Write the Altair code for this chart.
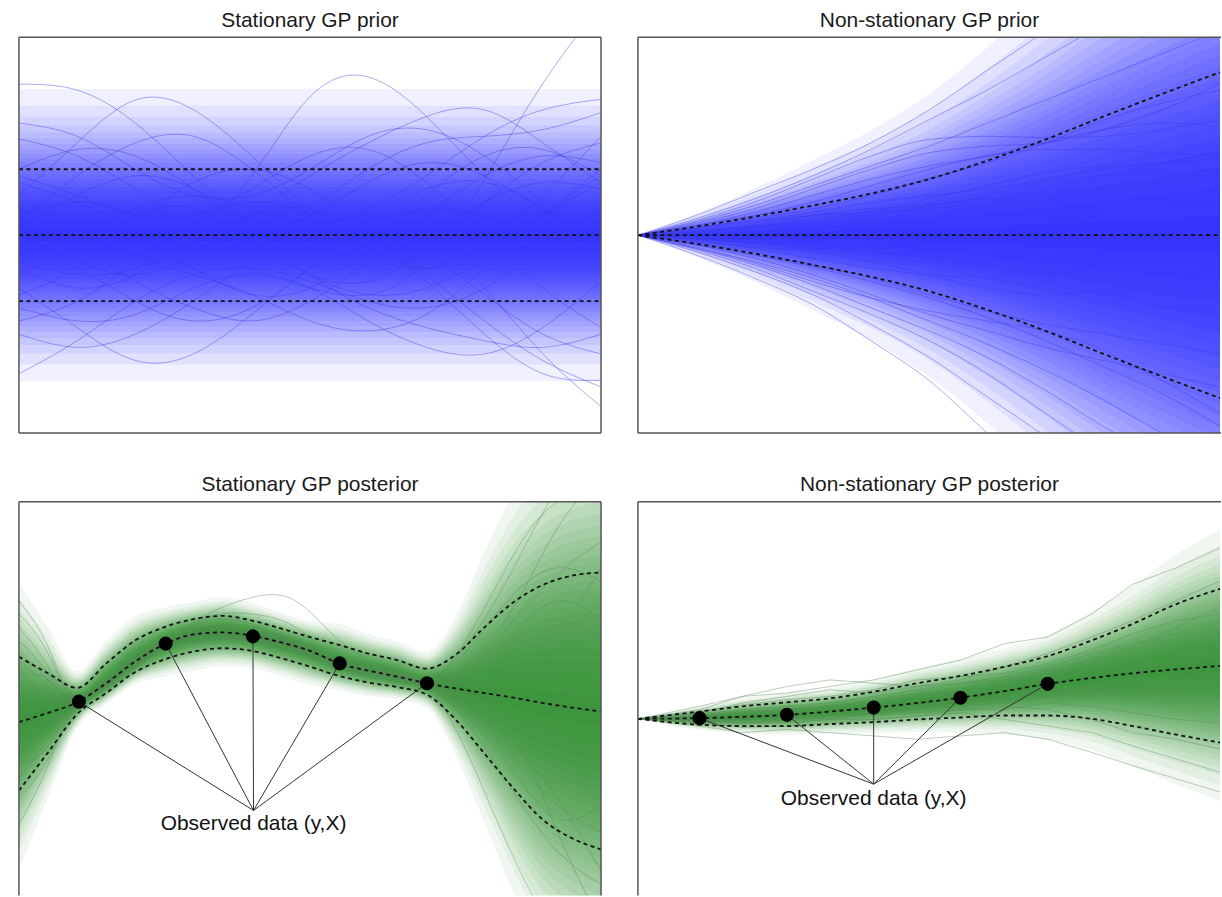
import altair as alt
import pandas as pd

# ---------------- data ----------------
X11 = [0.0, 0.1, 0.2, 0.3, 0.4, 0.5, 0.6, 0.7, 0.8, 0.9, 1.0]

# Stationary GP prior
TL_MEAN = [0, 0, 0, 0, 0, 0, 0, 0, 0, 0, 0]
TL_UPPER = [1, 1, 1, 1, 1, 1, 1, 1, 1, 1, 1]
TL_LOWER = [-1, -1, -1, -1, -1, -1, -1, -1, -1, -1, -1]
TL_SAMPLES = [
    [0.3, 0.5, 0.3, -0.1, -0.5, -0.8, -0.9, -0.4, 0.85, 2.3, 3.5],
    [-0.5, -0.8, -0.6, 0.0, 0.9, 2.1, 2.4, 1.8, 0.9, 0.2, 0.0],
    [2.29, 2.2, 1.7, 0.9, 0.2, -0.2, -0.3, 0.0, 0.5, 0.8, 0.7],
    [0.6, 1.4, 2.05, 1.9, 1.2, 0.4, -0.2, -0.4, -0.2, 0.3, 0.8],
    [-2.1, -1.6, -1.0, -0.6, -0.5, -0.7, -1.0, -1.1, -0.8, -0.2, 0.4],
    [0.2, 0.0, -0.3, -0.4, -0.2, 0.1, 0.3, 0.0, -0.8, -1.8, -2.6],
    [-0.4, -0.6, -0.5, -0.1, 0.3, 0.4, 0.0, -0.7, -1.5, -2.1, -2.2],
    [-0.8, -1.4, -1.9, -1.8, -1.2, -0.5, 0.1, 0.4, 0.3, 0.0, -0.3],
    [0.5, 0.2, -0.3, -0.6, -0.9, -1.3, -1.45, -1.2, -0.5, 0.3, 0.9],
    [-0.3, 0.0, 0.4, 0.6, 0.4, 0.2, 0.4, 0.9, 1.5, 1.9, 2.06],
    [0.8, 0.5, 0.1, -0.2, -0.1, 0.4, 1.0, 1.4, 1.5, 1.6, 1.86],
    [0.0, -0.4, -0.6, -0.3, 0.3, 0.9, 1.4, 1.8, 1.9, 1.4, 0.8],
    [1.46, 1.2, 0.7, 0.2, 0.0, 0.3, 0.8, 1.1, 0.9, 0.4, -0.1],
    [-0.9, -0.5, 0.2, 0.8, 1.0, 0.7, 0.1, -0.6, -1.3, -1.9, -2.3],
    [1.0, 1.3, 1.2, 0.7, 0.0, -0.6, -0.9, -0.8, -0.4, -0.1, 0.1],
    [-1.3, -1.0, -0.4, 0.2, 0.5, 0.3, -0.2, -0.5, -0.3, 0.3, 1.0],
    [0.1, 0.6, 0.9, 0.7, 0.1, -0.6, -1.1, -1.4, -1.6, -1.7, -1.5],
    [-0.2, -0.5, -1.0, -1.3, -1.1, -0.5, 0.2, 0.7, 0.8, 0.4, -0.3],
    [0.9, 0.6, 0.3, 0.3, 0.7, 1.2, 1.3, 0.8, 0.0, -0.8, -1.4],
    [-0.6, -0.2, 0.3, 0.4, -0.1, -0.6, -0.7, -0.2, 0.5, 1.1, 1.4],
    [1.7, 1.5, 1.0, 0.6, 0.6, 1.0, 1.5, 1.6, 1.2, 0.5, -0.2],
    [-1.5, -1.7, -1.5, -1.0, -0.4, 0.0, 0.0, -0.3, -0.9, -1.5, -1.8],
    [0.4, -0.1, -0.7, -1.1, -1.3, -1.0, -0.4, 0.3, 0.9, 1.2, 1.1],
    [-1.1, -1.3, -1.2, -0.8, -0.6, -0.8, -1.3, -1.7, -1.8, -1.4, -0.7],
    [0.2, 0.9, 1.4, 1.5, 1.0, 0.3, -0.3, -0.5, -0.1, 0.6, 1.5],
    [-0.1, 0.2, 0.0, -0.5, -0.9, -0.8, -0.2, 0.6, 1.2, 1.3, 0.9],
]

# Non-stationary GP prior
TR_MEAN = [0, 0, 0, 0, 0, 0, 0, 0, 0, 0, 0]
TR_UPPER = [0, 0.13, 0.28, 0.45, 0.63, 0.85, 1.13, 1.45, 1.8, 2.14, 2.47]
TR_LOWER = [0, -0.13, -0.28, -0.45, -0.63, -0.85, -1.13, -1.45, -1.8, -2.14, -2.47]
TR_SAMPLES = [
    [0, 0.3, 0.65, 1.0, 1.4, 1.9, 2.5, 3.1, 3.8, 4.4, 5.0],
    [0, 0.25, 0.55, 0.9, 1.3, 1.75, 2.2, 2.7, 3.2, 3.7, 4.2],
    [0, 0.2, 0.45, 0.75, 1.05, 1.35, 1.7, 2.05, 2.4, 2.75, 3.1],
    [0, 0.22, 0.5, 0.85, 1.2, 1.45, 1.5, 1.48, 1.5, 1.6, 1.75],
    [0, 0.18, 0.4, 0.7, 1.0, 1.25, 1.35, 1.4, 1.6, 1.9, 2.3],
    [0, 0.15, 0.3, 0.5, 0.75, 1.0, 1.2, 1.3, 1.3, 1.25, 1.2],
    [0, 0.1, 0.25, 0.4, 0.6, 0.85, 1.1, 1.4, 1.75, 2.0, 2.2],
    [0, 0.12, 0.22, 0.35, 0.5, 0.6, 0.7, 0.85, 1.0, 1.1, 1.15],
    [0, 0.05, 0.15, 0.3, 0.4, 0.45, 0.6, 0.8, 0.9, 0.95, 1.0],
    [0, 0.08, 0.12, 0.2, 0.3, 0.45, 0.55, 0.5, 0.45, 0.5, 0.65],
    [0, 0.02, 0.05, 0.1, 0.2, 0.25, 0.2, 0.2, 0.3, 0.4, 0.4],
    [0, -0.03, -0.05, 0.0, 0.1, 0.05, -0.1, -0.2, -0.1, 0.05, 0.1],
    [0, -0.05, -0.12, -0.2, -0.25, -0.35, -0.5, -0.6, -0.55, -0.5, -0.6],
    [0, -0.08, -0.2, -0.35, -0.5, -0.6, -0.65, -0.8, -1.0, -1.1, -1.05],
    [0, -0.12, -0.25, -0.45, -0.65, -0.9, -1.15, -1.35, -1.5, -1.65, -1.8],
    [0, -0.15, -0.35, -0.6, -0.9, -1.2, -1.45, -1.7, -1.9, -2.1, -2.3],
    [0, -0.3, -0.65, -1.05, -1.6, -2.2, -3.0, -3.8, -4.6, -5.4, -6.2],
    [0, -0.25, -0.55, -0.9, -1.35, -1.85, -2.45, -3.05, -3.7, -4.3, -5.0],
    [0, -0.22, -0.5, -0.85, -1.2, -1.6, -2.1, -2.7, -3.3, -3.9, -4.4],
    [0, -0.2, -0.45, -0.75, -1.1, -1.45, -1.85, -2.35, -2.9, -3.4, -3.9],
    [0, -0.2, -0.4, -0.65, -0.95, -1.3, -1.65, -2.05, -2.5, -3.0, -3.4],
    [0, -0.18, -0.42, -0.7, -0.95, -1.15, -1.3, -1.45, -1.75, -2.2, -2.7],
    [0, 0.05, 0.12, 0.25, 0.35, 0.55, 0.75, 0.95, 1.05, 1.1, 1.3],
    [0, -0.1, -0.18, -0.25, -0.4, -0.6, -0.8, -0.9, -0.85, -0.9, -1.2],
    [0, 0.15, 0.35, 0.6, 0.85, 1.05, 1.2, 1.4, 1.6, 1.7, 1.65],
    [0, -0.06, -0.1, -0.15, -0.2, -0.15, -0.3, -0.45, -0.6, -0.8, -0.9],
    [0, 0.1, 0.2, 0.3, 0.35, 0.4, 0.5, 0.65, 0.7, 0.8, 0.95],
    [0, -0.14, -0.3, -0.48, -0.7, -0.95, -1.25, -1.6, -2.0, -2.4, -2.9],
]

# Stationary GP posterior
BL_X21 = [0.0, 0.05, 0.1, 0.15, 0.2, 0.25, 0.3, 0.35, 0.4, 0.45, 0.5,
          0.55, 0.6, 0.65, 0.7, 0.75, 0.8, 0.85, 0.9, 0.95, 1.0]
BL_MEAN = [-0.34, -0.2, -0.04, 0.25, 0.58, 0.84, 0.99, 1.02, 0.97, 0.87, 0.74,
           0.55, 0.44, 0.35, 0.25, 0.17, 0.1, 0.03, -0.05, -0.12, -0.18]
BL_UPPER = [0.65, 0.4, 0.18, 0.55, 0.9, 1.1, 1.22, 1.27, 1.2, 1.08, 0.95,
            0.83, 0.7, 0.6, 0.47, 0.68, 1.1, 1.48, 1.74, 1.88, 1.93]
BL_LOWER = [-1.38, -0.8, -0.22, 0.1, 0.42, 0.61, 0.73, 0.78, 0.74, 0.63, 0.5,
            0.36, 0.26, 0.19, 0.08, -0.3, -0.82, -1.35, -1.82, -2.1, -2.27]
BL_X15 = [0.0, 0.05, 0.1, 0.175, 0.25, 0.325, 0.4, 0.475, 0.55, 0.625, 0.7,
          0.775, 0.85, 0.925, 1.0]
BL_SAMPLES = [
    [1.5, 0.8, 0.05, 0.6, 0.95, 1.3, 1.55, 1.5, 0.9, 0.5, 0.3, 0.9, 2.0, 3.2, 4.0],
    [-1.9, -1.0, -0.1, 0.3, 0.8, 0.9, 0.9, 0.7, 0.5, 0.35, 0.2, -0.9, -2.4, -3.6, -4.5],
    [0.3, 0.1, -0.05, 0.5, 0.9, 1.1, 1.0, 0.85, 0.6, 0.5, 0.3, 0.5, 1.2, 1.9, 2.4],
    [-0.8, -0.5, -0.05, 0.35, 0.82, 0.95, 0.9, 0.75, 0.5, 0.3, 0.2, -0.2, -0.9, -1.6, -2.0],
    [0.9, 0.4, 0.0, 0.45, 0.88, 1.2, 1.15, 0.9, 0.6, 0.45, 0.3, 0.8, 1.6, 2.0, 1.8],
    [-0.2, -0.3, -0.1, 0.3, 0.8, 0.9, 0.95, 0.75, 0.5, 0.3, 0.22, 0.0, -0.4, -0.3, 0.3],
    [0.6, 0.2, -0.02, 0.45, 0.85, 1.0, 0.98, 0.85, 0.55, 0.45, 0.28, 0.5, 0.6, 0.2, -0.5],
    [-1.2, -0.6, -0.05, 0.35, 0.8, 1.05, 1.0, 0.8, 0.52, 0.35, 0.25, 0.3, 0.9, 1.2, 0.9],
    [0.0, -0.2, -0.03, 0.45, 0.87, 0.95, 0.92, 0.78, 0.58, 0.42, 0.26, -0.1, -0.7, -1.5, -2.6],
    [1.1, 0.5, 0.0, 0.5, 0.85, 1.1, 1.1, 0.85, 0.55, 0.4, 0.27, 0.2, -0.3, -1.0, -1.2],
    [-0.6, -0.4, -0.04, 0.38, 0.83, 1.0, 0.98, 0.82, 0.55, 0.38, 0.24, 0.6, 1.4, 2.6, 3.4],
    [-1.5, -0.9, -0.08, 0.35, 0.85, 0.92, 0.9, 0.8, 0.56, 0.42, 0.25, -0.4, -1.4, -2.3, -2.8],
    [0.4, 0.3, 0.0, 0.4, 0.84, 1.05, 1.02, 0.86, 0.57, 0.4, 0.24, 0.0, 0.2, 0.8, 1.5],
    [-0.3, -0.1, -0.02, 0.42, 0.86, 1.02, 0.97, 0.8, 0.54, 0.4, 0.26, 0.3, 0.0, -0.6, -1.0],
    [1.3, 0.7, 0.02, 0.5, 0.9, 1.25, 1.3, 1.1, 0.65, 0.5, 0.27, 0.4, 1.0, 1.5, 1.2],
    [-1.0, -0.7, -0.06, 0.3, 0.8, 0.85, 0.85, 0.72, 0.52, 0.35, 0.23, 0.1, 0.4, 0.3, -0.4],
    [0.1, 0.0, -0.03, 0.42, 0.85, 1.0, 0.96, 0.82, 0.56, 0.38, 0.24, -0.3, -1.1, -1.8, -1.6],
    [0.7, 0.3, -0.02, 0.42, 0.86, 1.1, 1.05, 0.9, 0.58, 0.44, 0.26, 1.0, 2.2, 3.0, 3.1],
    [-0.5, -0.3, -0.05, 0.38, 0.84, 0.97, 0.94, 0.78, 0.55, 0.36, 0.24, 0.4, 0.5, 1.0, 2.0],
    [0.2, 0.05, -0.03, 0.4, 0.85, 1.03, 1.0, 0.83, 0.56, 0.4, 0.25, 0.1, -0.5, -2.0, -3.4],
]
BL_DOT_X = [0.103, 0.252, 0.402, 0.551, 0.701]
BL_DOT_Y = [-0.03, 0.85, 0.96, 0.55, 0.25]
BL_LABEL = {"x": 0.403, "y": -1.88, "hub_y": -1.68}

# Non-stationary GP posterior
BR_X = [0.0, 0.106, 0.18, 0.256, 0.33, 0.405, 0.48, 0.554, 0.63, 0.704,
        0.78, 0.85, 0.925, 1.0]
BR_MEAN = [-0.29, -0.28, -0.26, -0.23, -0.18, -0.12, -0.05, 0.03, 0.13, 0.24,
           0.33, 0.4, 0.46, 0.51]
BR_UPPER = [-0.29, -0.18, -0.1, -0.04, 0.02, 0.12, 0.25, 0.36, 0.5, 0.66,
            0.9, 1.15, 1.45, 1.68]
BR_LOWER = [-0.29, -0.38, -0.4, -0.4, -0.37, -0.34, -0.3, -0.27, -0.24, -0.24,
            -0.29, -0.4, -0.53, -0.65]
BR_SAMPLES = [
    [-0.29, -0.1, 0.05, 0.1, 0.2, 0.3, 0.45, 0.6, 0.85, 0.95, 1.3, 1.75, 2.0, 2.3],
    [-0.29, -0.2, -0.05, 0.05, 0.15, 0.1, 0.2, 0.3, 0.5, 0.7, 0.95, 1.2, 1.5, 1.8],
    [-0.29, -0.3, -0.35, -0.3, -0.25, -0.2, -0.1, -0.05, 0.0, 0.1, 0.15, 0.1, 0.05, 0.0],
    [-0.29, -0.4, -0.5, -0.45, -0.5, -0.55, -0.6, -0.55, -0.5, -0.6, -0.8, -1.0, -1.2, -1.4],
    [-0.29, -0.25, -0.2, -0.15, -0.1, 0.0, 0.1, 0.15, 0.25, 0.4, 0.5, 0.6, 0.75, 0.9],
    [-0.29, -0.35, -0.3, -0.25, -0.3, -0.2, -0.15, -0.1, -0.05, 0.05, 0.1, 0.25, 0.3, 0.35],
    [-0.29, -0.22, -0.15, -0.1, -0.05, 0.05, 0.15, 0.25, 0.35, 0.5, 0.7, 0.85, 1.0, 1.2],
    [-0.29, -0.32, -0.35, -0.35, -0.3, -0.3, -0.25, -0.15, -0.1, -0.15, -0.3, -0.5, -0.6, -0.75],
    [-0.29, -0.27, -0.25, -0.2, -0.15, -0.1, -0.02, 0.08, 0.2, 0.3, 0.4, 0.5, 0.55, 0.6],
    [-0.29, -0.15, 0.05, 0.2, 0.3, 0.25, 0.2, 0.25, 0.3, 0.45, 0.6, 0.8, 1.1, 1.4],
    [-0.29, -0.35, -0.42, -0.4, -0.35, -0.3, -0.25, -0.2, -0.3, -0.4, -0.5, -0.7, -0.9, -1.1],
    [-0.29, -0.3, -0.28, -0.22, -0.2, -0.12, -0.05, 0.05, 0.1, 0.2, 0.35, 0.45, 0.4, 0.5],
    [-0.29, -0.25, -0.18, -0.15, -0.1, -0.05, 0.05, 0.1, 0.15, 0.3, 0.25, 0.2, 0.15, 0.25],
    [-0.29, -0.28, -0.3, -0.25, -0.18, -0.15, -0.1, 0.0, 0.05, 0.15, 0.2, 0.35, 0.6, 0.75],
    [-0.29, -0.18, -0.08, 0.0, 0.05, 0.15, 0.3, 0.35, 0.4, 0.55, 0.75, 1.0, 1.2, 1.3],
    [-0.29, -0.33, -0.38, -0.3, -0.25, -0.22, -0.2, -0.15, -0.15, -0.05, -0.1, -0.2, -0.3, -0.35],
]
BR_DOT_X = [0.106, 0.256, 0.405, 0.554, 0.704]
BR_DOT_Y = [-0.28, -0.23, -0.12, 0.03, 0.24]
BR_LABEL = {"x": 0.405, "y": -1.5, "hub_y": -1.28}

TITLES = ["Stationary GP prior", "Non-stationary GP prior",
          "Stationary GP posterior", "Non-stationary GP posterior"]
LABEL_TEXT = "Observed data (y,X)"

# shading levels (multiples of the dashed-line spread), denser near the mean
SHADE_LEVELS = [0.12, 0.29, 0.42, 0.52, 0.60, 0.68, 0.76, 0.83, 0.90, 0.97, 1.04,
                1.11, 1.18, 1.25, 1.32, 1.40, 1.48, 1.57, 1.67, 1.77, 1.89,
                2.04, 2.23, 2.52]

FONT = "Liberation Sans"
FRAME_COLOR = "#555555"
PX_PER_Y = 397 / 6.0   # pixels per y unit
PX_PER_X = 584.0        # pixels per x unit
DUMMY = pd.DataFrame({"d": [0]})


def samples_df(xs, curves):
    rows = []
    for i, c in enumerate(curves):
        for x, y in zip(xs, c):
            rows.append({"id": i, "x": x, "y": y})
    return pd.DataFrame(rows)


def bands_df(xs, mean, upper, lower, scale):
    rows = []
    for j, k in enumerate(SHADE_LEVELS):
        k = k * scale
        for x, m, u, l in zip(xs, mean, upper, lower):
            rows.append({"level": j, "x": x, "lo": m - k * (m - l), "hi": m + k * (u - m)})
    return pd.DataFrame(rows)


def dashed_df(xs, mean, upper, lower):
    rows = []
    for name, arr in (("mean", mean), ("upper", upper), ("lower", lower)):
        for x, y in zip(xs, arr):
            rows.append({"which": name, "x": x, "y": y})
    return pd.DataFrame(rows)


def frame_edges(width, height, sides):
    edges = []
    spec = {
        "top": dict(x=alt.value(0), x2=alt.value(width), y=alt.value(0)),
        "bottom": dict(x=alt.value(0), x2=alt.value(width), y=alt.value(height)),
        "left": dict(x=alt.value(0), y=alt.value(0), y2=alt.value(height)),
        "right": dict(x=alt.value(width), y=alt.value(0), y2=alt.value(height)),
    }
    for s in sides:
        edges.append(
            alt.Chart(DUMMY).mark_rule(color=FRAME_COLOR, strokeWidth=1.5).encode(**spec[s])
        )
    return edges


def panel(title, width, height, sides, sx, samples, dx, mean, upper, lower, fill,
          band_op, shade_scale, line_color, line_interp, dots=None, label=None):
    XS = alt.Scale(domain=[0, width / PX_PER_X], nice=False, zero=False)
    YS = alt.Scale(domain=[3 - height / PX_PER_Y, 3], nice=False, zero=False)
    layers = []
    layers.append(
        alt.Chart(bands_df(dx, mean, upper, lower, shade_scale)).mark_area(
            clip=True, color=fill, opacity=band_op, interpolate="monotone"
        ).encode(
            x=alt.X("x:Q", scale=XS, axis=None),
            y=alt.Y("lo:Q", scale=YS, axis=None),
            y2="hi:Q",
            detail="level:N",
        )
    )
    layers.append(
        alt.Chart(samples_df(sx, samples)).mark_line(
            clip=True, color=line_color, strokeWidth=0.7, opacity=0.6,
            interpolate=line_interp
        ).encode(
            x=alt.X("x:Q", scale=XS, axis=None),
            y=alt.Y("y:Q", scale=YS, axis=None),
            detail="id:N",
        )
    )
    layers.append(
        alt.Chart(dashed_df(dx, mean, upper, lower)).mark_line(
            clip=True, color="#111111", strokeWidth=1.8, strokeDash=[4, 3.5],
            interpolate="monotone"
        ).encode(
            x=alt.X("x:Q", scale=XS, axis=None),
            y=alt.Y("y:Q", scale=YS, axis=None),
            detail="which:N",
        )
    )
    if dots is not None:
        dot_x, dot_y = dots
        conn = pd.DataFrame({
            "x": [label["x"]] * len(dot_x), "y": [label["hub_y"]] * len(dot_x),
            "x2": dot_x, "y2": dot_y,
        })
        layers.append(
            alt.Chart(conn).mark_rule(color="#333333", strokeWidth=1).encode(
                x=alt.X("x:Q", scale=XS, axis=None),
                y=alt.Y("y:Q", scale=YS, axis=None),
                x2="x2:Q", y2="y2:Q",
            )
        )
        layers.append(
            alt.Chart(pd.DataFrame({"x": dot_x, "y": dot_y})).mark_circle(
                color="black", size=200, opacity=1
            ).encode(
                x=alt.X("x:Q", scale=XS, axis=None),
                y=alt.Y("y:Q", scale=YS, axis=None),
            )
        )
        layers.append(
            alt.Chart(pd.DataFrame({"x": [label["x"]], "y": [label["y"]],
                                    "t": [LABEL_TEXT]})).mark_text(
                font=FONT, fontSize=21, color="#111111", baseline="middle", align="center"
            ).encode(
                x=alt.X("x:Q", scale=XS, axis=None),
                y=alt.Y("y:Q", scale=YS, axis=None),
                text="t:N",
            )
        )
    layers.extend(frame_edges(width, height, sides))
    return alt.layer(*layers).properties(
        width=width, height=height,
        title=alt.TitleParams(title, fontSize=21, font=FONT, fontWeight="normal",
                              color="#1a1a1a", offset=6, anchor="middle"),
    )


BLUE_FILL = "#0000ff"
BLUE_LINE = "#3a3ae6"
GREEN_FILL = "#0a840a"
GREEN_LINE = "#5b8a5b"

tl = panel(TITLES[0], 584, 397, ["top", "bottom", "left", "right"],
           X11, TL_SAMPLES, X11, TL_MEAN, TL_UPPER, TL_LOWER,
           BLUE_FILL, 0.058, 0.88, BLUE_LINE, "natural")
tr = panel(TITLES[1], 585, 397, ["top", "bottom", "left"],
           X11, TR_SAMPLES, X11, TR_MEAN, TR_UPPER, TR_LOWER,
           BLUE_FILL, 0.058, 1.0, BLUE_LINE, "monotone")
bl = panel(TITLES[2], 584, 395, ["top", "left", "right"],
           BL_X15, BL_SAMPLES, BL_X21, BL_MEAN, BL_UPPER, BL_LOWER,
           GREEN_FILL, 0.062, 0.85, GREEN_LINE, "natural",
           dots=(BL_DOT_X, BL_DOT_Y), label=BL_LABEL)
br = panel(TITLES[3], 585, 395, ["top", "left"],
           BR_X, BR_SAMPLES, BR_X, BR_MEAN, BR_UPPER, BR_LOWER,
           GREEN_FILL, 0.062, 0.7, GREEN_LINE, "linear",
           dots=(BR_DOT_X, BR_DOT_Y), label=BR_LABEL)

chart = alt.vconcat(
    alt.hconcat(tl, tr, spacing=35),
    alt.hconcat(bl, br, spacing=35),
    spacing=40,
).properties(
    padding={"left": 18, "top": 8, "right": 0, "bottom": 0},
    background="white",
).configure_view(
    strokeWidth=0
)

chart.save("out.html", embed_options={"renderer": "svg", "actions": False})
